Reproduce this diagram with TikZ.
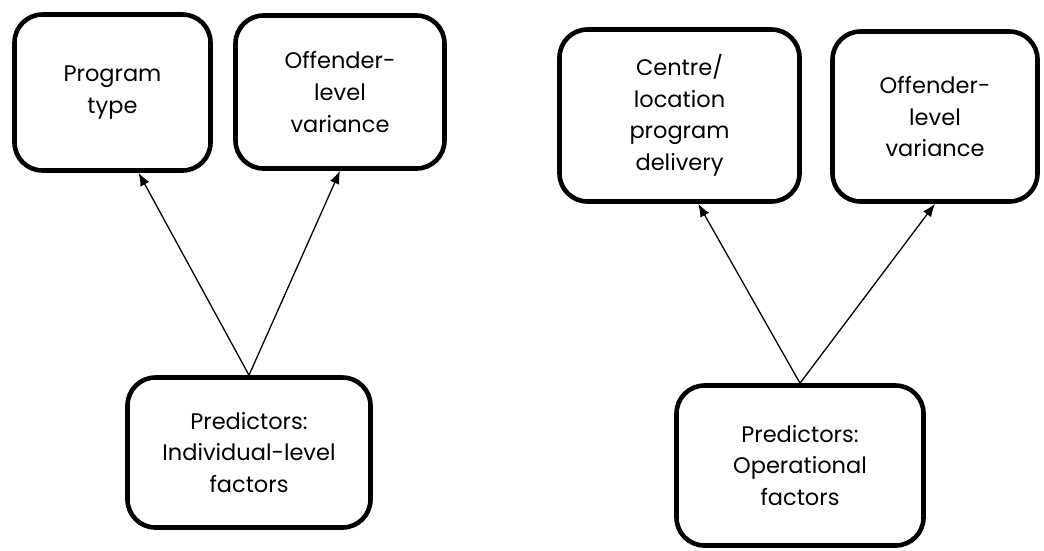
\documentclass[tikz,border=0pt]{standalone}
\usepackage{fontspec}
\setmainfont{Poppins}
\usetikzlibrary{arrows.meta}

\tikzset{
	factorbox/.style={draw, line width=4.6pt, rounded corners=28pt, align=center,
		inner sep=0pt, font=\fontsize{22.5}{31.5}\selectfont},
	link/.style={line width=1.3pt, -{Latex[length=13pt,width=10pt]}}
}

\begin{document}
\begin{tikzpicture}[x=1pt, y=-1pt]
		%%%%% START %%%%%
		\useasboundingbox (0, 0) rectangle (1044, 550);
		
		% left model
		\node[factorbox, minimum width=196pt, minimum height=156pt] (progtype) at (112.5, 92.5) {Program\\type};
		\node[factorbox, minimum width=209pt, minimum height=153pt] (offvarL) at (340, 92) {Offender-\\level\\variance};
		\node[factorbox, minimum width=243pt, minimum height=150pt] (indiv) at (249, 452.5) {Predictors:\\Individual-level\\factors};
		
		\draw[link] (indiv.north) -- (progtype.-72);
		\draw[link] (indiv.north) -- (offvarL.south);
		
		% right model
		\node[factorbox, minimum width=240pt, minimum height=172pt] (centre) at (679.5, 115.5) {Centre/\\location\\program\\delivery};
		\node[factorbox, minimum width=205pt, minimum height=170pt] (offvarR) at (935, 116.5) {Offender-\\level\\variance};
		\node[factorbox, minimum width=247pt, minimum height=160pt] (oper) at (800, 465.5) {Predictors:\\Operational\\factors};
		
		\draw[link] (oper.north) -- (centre.-78);
		\draw[link] (oper.north) -- (offvarR.south);
		
		%%%%% END %%%%%
	\end{tikzpicture}
\end{document}
